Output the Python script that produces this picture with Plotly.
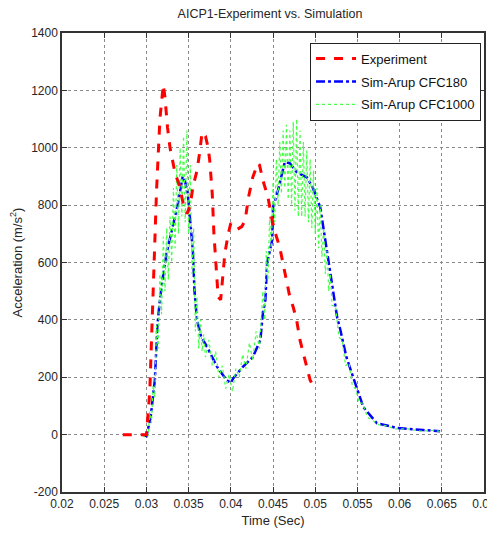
import plotly.graph_objects as go

# ---------------- data ----------------
exp_t = [0.0272, 0.0300, 0.0304, 0.0308, 0.0312, 0.0316, 0.0320, 0.0322, 0.0325, 0.0328,
         0.0331, 0.0334, 0.0339, 0.0344, 0.0348, 0.0352, 0.0355, 0.0360, 0.0363, 0.0366,
         0.0370, 0.0373, 0.0375, 0.0378, 0.0380, 0.0382, 0.0385, 0.0388, 0.0390, 0.0393,
         0.0397, 0.0400, 0.0404, 0.0408, 0.0413, 0.0417, 0.0421, 0.0426, 0.0432, 0.0434,
         0.0438, 0.0444, 0.0449, 0.0453, 0.0458, 0.0462, 0.0467, 0.0470, 0.0474, 0.0478,
         0.0482, 0.0488, 0.0494, 0.0497]
exp_a = [0, 0, 150, 500, 850, 1100, 1220, 1176, 1071, 1000,
         957, 911, 870, 800, 770, 800, 862, 921, 981, 1054,
         1040, 1002, 957, 841, 700, 600, 480, 470, 528, 633,
         700, 737, 725, 716, 725, 747, 828, 897, 946, 940,
         887, 828, 747, 700, 653, 598, 528, 479, 444, 399,
         329, 260, 190, 174]

cfc180_t = [0.0295, 0.0300, 0.0305, 0.0310, 0.0313, 0.0316, 0.0320, 0.0324, 0.0331, 0.0337,
            0.0343, 0.0346, 0.0349, 0.0352, 0.0355, 0.0357, 0.0360, 0.0365, 0.0372, 0.0384,
            0.0395, 0.0400, 0.0403, 0.0414, 0.0426, 0.0435, 0.0438, 0.0441, 0.0443, 0.0449,
            0.0450, 0.0456, 0.0464, 0.0470, 0.0478, 0.0490, 0.0497, 0.0506, 0.0510, 0.0514,
            0.0518, 0.0521, 0.0526, 0.0529, 0.0537, 0.0545, 0.0557, 0.0573, 0.0597, 0.0628,
            0.0648]
cfc180_a = [0, -5, 60, 190, 380, 470, 560, 633, 723, 800,
            900, 880, 841, 747, 643, 500, 399, 340, 305, 235,
            190, 180, 197, 235, 270, 329, 423, 469, 598, 677,
            792, 852, 950, 946, 915, 897, 862, 792, 712, 633,
            563, 493, 409, 375, 270, 200, 96, 40, 23, 16,
            12]

cfc1000_t = [0.0296, 0.0298, 0.0300, 0.0302, 0.0304, 0.0306, 0.0308, 0.0310, 0.0312, 0.0314,
             0.0316, 0.0318, 0.0320, 0.0322, 0.0324, 0.0326, 0.0328, 0.0330, 0.0332, 0.0334,
             0.0336, 0.0338, 0.0340, 0.0342, 0.0344, 0.0346, 0.0348, 0.0350, 0.0352, 0.0354,
             0.0356, 0.0358, 0.0360, 0.0362, 0.0364, 0.0366, 0.0368, 0.0370, 0.0374, 0.0378,
             0.0382, 0.0386, 0.0390, 0.0394, 0.0398, 0.0402, 0.0406, 0.0410, 0.0414, 0.0418,
             0.0422, 0.0426, 0.0430, 0.0434, 0.0438, 0.0440, 0.0442, 0.0444, 0.0446, 0.0448,
             0.0450, 0.0452, 0.0454, 0.0456, 0.0458, 0.0460, 0.0462, 0.0464, 0.0466, 0.0468,
             0.0470, 0.0472, 0.0474, 0.0476, 0.0478, 0.0480, 0.0482, 0.0484, 0.0486, 0.0488,
             0.0490, 0.0492, 0.0494, 0.0496, 0.0498, 0.0500, 0.0502, 0.0504, 0.0506, 0.0508,
             0.0510, 0.0512, 0.0514, 0.0516, 0.0518, 0.0520, 0.0524, 0.0528, 0.0532, 0.0536,
             0.0540, 0.0544, 0.0548, 0.0552, 0.0556, 0.0562, 0.0568, 0.0575, 0.0585, 0.0595,
             0.0610, 0.0625, 0.0640, 0.0650]
cfc1000_a = [0, -10, 10, -5, 80, 40, 170, 130, 380, 300,
             560, 420, 690, 500, 720, 540, 760, 600, 860, 650,
             940, 700, 1000, 760, 1040, 740, 1060, 700, 940, 560,
             720, 360, 480, 300, 400, 290, 350, 270, 330, 240,
             290, 200, 240, 160, 210, 150, 230, 200, 280, 230,
             320, 260, 360, 300, 500, 400, 640, 540, 760, 640,
             880, 740, 960, 800, 1020, 840, 1060, 860, 1080, 820,
             1060, 800, 1090, 780, 1100, 760, 1060, 760, 1020, 760,
             990, 740, 960, 720, 920, 700, 860, 650, 800, 620,
             720, 560, 640, 500, 560, 450, 450, 340, 330, 240,
             250, 170, 160, 110, 110, 60, 50, 35, 30, 20,
             20, 12, 15, 10]

x_ticks = [0.02, 0.025, 0.03, 0.035, 0.04, 0.045, 0.05, 0.055, 0.06, 0.065, 0.07]
x_tick_labels = ["0.02", "0.025", "0.03", "0.035", "0.04", "0.045", "0.05", "0.055", "0.06", "0.065", "0.07"]
y_ticks = [-200, 0, 200, 400, 600, 800, 1000, 1200, 1400]
y_tick_labels = ["-200", "0", "200", "400", "600", "800", "1000", "1200", "1400"]

FONT = "Liberation Sans, Arial, sans-serif"
TXT = "#262626"

fig = go.Figure()
fig.add_trace(go.Scatter(x=cfc180_t, y=cfc180_a, mode="lines", name="Sim-Arup CFC180",
                         line=dict(color="#0000ff", width=2.5, dash="dashdot"),
                         legendgroup="b", legendrank=2))
fig.add_trace(go.Scatter(x=cfc1000_t, y=cfc1000_a, mode="lines", name="Sim-Arup CFC1000",
                         line=dict(color="#44ff44", width=1.2, dash="dot"),
                         legendgroup="c", legendrank=3))
fig.add_trace(go.Scatter(x=exp_t, y=exp_a, mode="lines", name="Experiment",
                         line=dict(color="#ff0000", width=3, dash="dash"),
                         legendgroup="a", legendrank=1))

axis_common = dict(showline=True, linecolor="#333333", linewidth=1.5, mirror="ticks",
                   ticks="inside", ticklen=5, tickcolor="#333333", automargin=False,
                   ticklabeloverflow="allow",
                   showgrid=True, gridcolor="#8a8a8a", griddash="dot", gridwidth=1,
                   zeroline=False, tickfont=dict(family=FONT, size=12, color=TXT))

fig.update_xaxes(range=[0.02, 0.0700001], tickvals=x_ticks, ticktext=x_tick_labels,
                 title=dict(text="Time (Sec)", font=dict(family=FONT, size=13, color=TXT), standoff=6),
                 **axis_common)
fig.update_yaxes(range=[-200, 1400], tickvals=y_ticks, ticktext=y_tick_labels,
                 title=dict(text="Acceleration (m/s<sup>2</sup>)", font=dict(family=FONT, size=13, color=TXT), standoff=6),
                 **axis_common)

# The page body adds an 8px offset, so the figure is 487x532 with margins adjusted.
fig.update_layout(
    width=487, height=532,
    margin=dict(l=54, r=11, t=25, b=48, autoexpand=False),
    paper_bgcolor="white", plot_bgcolor="white",
    title=dict(text="AICP1-Experiment vs. Simulation", x=0.538, xanchor="center",
               y=0.989, yanchor="middle",
               font=dict(family=FONT, size=12.5, color=TXT)),
    legend=dict(x=0.993, y=0.979, xanchor="right", yanchor="top",
                bgcolor="white", bordercolor="#222222", borderwidth=1,
                font=dict(family=FONT, size=13, color="#111111"),
                itemwidth=40,
                traceorder="grouped", tracegroupgap=3),
    showlegend=True,
)

fig.write_html("out.html")
